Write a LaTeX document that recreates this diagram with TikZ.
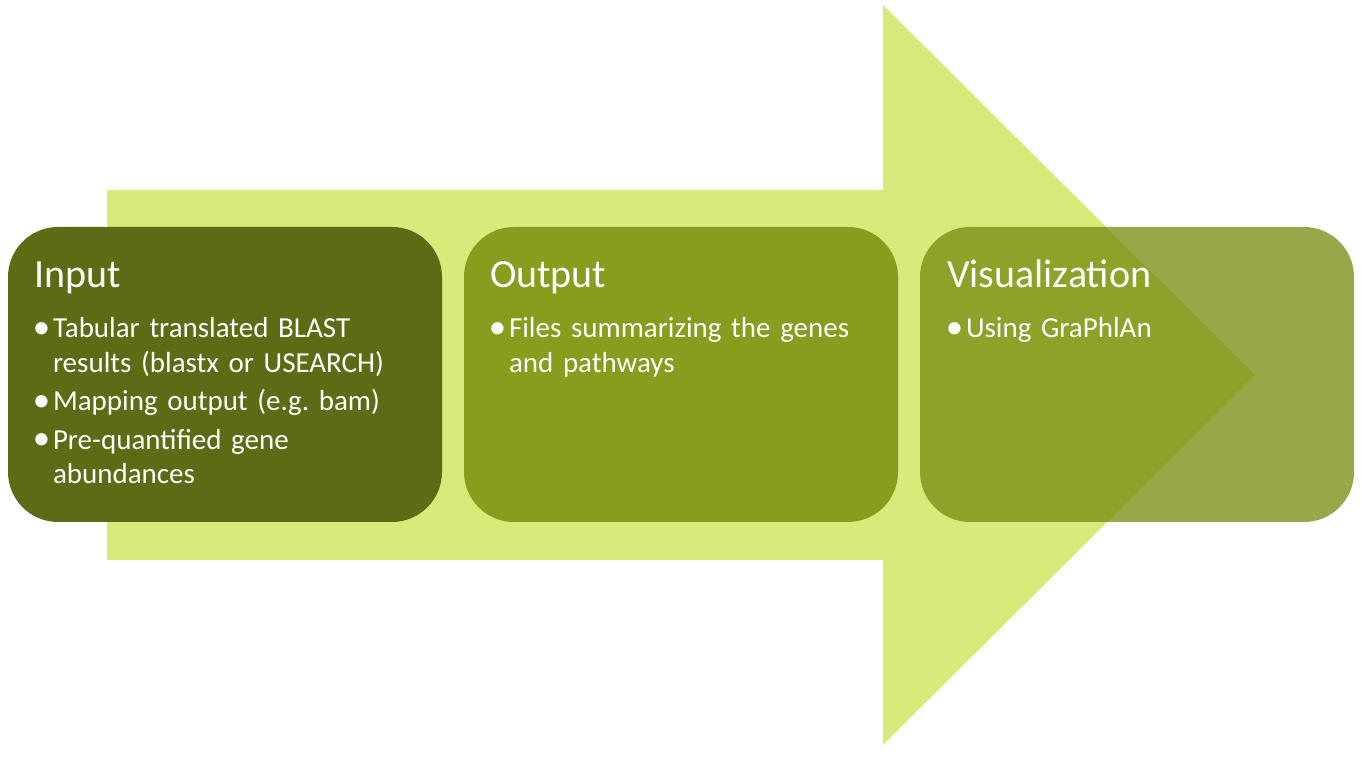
\documentclass[tikz,border=0pt]{standalone}
\usepackage{fontspec}
\setmainfont{Carlito}
\usetikzlibrary{positioning}
\definecolor{arrowgreen}{RGB}{214,235,121}
\definecolor{inputgreen}{RGB}{92,107,20}
\definecolor{outputgreen}{RGB}{136,156,30}
\definecolor{visgreen}{RGB}{118,140,17}
\newcommand{\listsetup}{\raggedright\setlength{\parskip}{4pt}}
\newcommand{\bulletitem}[1]{\hangindent=16pt\hangafter=1\noindent\makebox[16pt][l]{\makebox[9pt][c]{\raisebox{-0.5pt}{\scalebox{1.2}{\textbullet}}}}#1\par}
\begin{document}
\begin{tikzpicture}[x=1pt,y=1pt,
  stage/.style={rounded corners=50pt,minimum width=434pt,minimum height=295pt,inner sep=0pt},
  heading/.style={anchor=base west,inner sep=0pt,text=white,font=\fontsize{40}{40}\selectfont},
  items/.style={anchor=base west,inner sep=0pt,text=white,text width=400pt,
    font=\fontsize{29}{34.5}\selectfont}]
  \useasboundingbox (0,0) rectangle (1362,757);
  % big arrow
  \fill[arrowgreen] (107,567) -- (883,567) -- (883,752) -- (1255,382) -- (883,12) -- (883,197) -- (107,197) -- cycle;
  % stages
  \node[stage,fill=inputgreen] (input) at (225,382.5) {};
  \node[stage,fill=outputgreen] (output) at (681,382.5) {};
  \node[stage,fill=visgreen,fill opacity=0.76] (vis) at (1137,382.5) {};
  \node[heading] (inputtitle) at ([xshift=26pt,yshift=-61pt]input.north west) {Input};
  \node[items] (inputlist) at ([xshift=29pt,yshift=-111pt]input.north west) {\listsetup
    \bulletitem{Tabular translated BLAST\newline results (blastx or USEARCH)}%
    \bulletitem{Mapping output (e.g.\ bam)}%
    \bulletitem{Pre-quantified gene\newline abundances}};
  \node[heading] (outputtitle) at ([xshift=26pt,yshift=-61pt]output.north west) {Output};
  \node[items] (outputlist) at ([xshift=29pt,yshift=-111pt]output.north west) {\listsetup
    \bulletitem{Files summarizing the genes\newline and pathways}};
  \node[heading] (vistitle) at ([xshift=27pt,yshift=-61pt]vis.north west) {Visualization};
  \node[items] (vislist) at ([xshift=30pt,yshift=-111pt]vis.north west) {\listsetup
    \bulletitem{Using GraPhlAn}};
\end{tikzpicture}
\end{document}
